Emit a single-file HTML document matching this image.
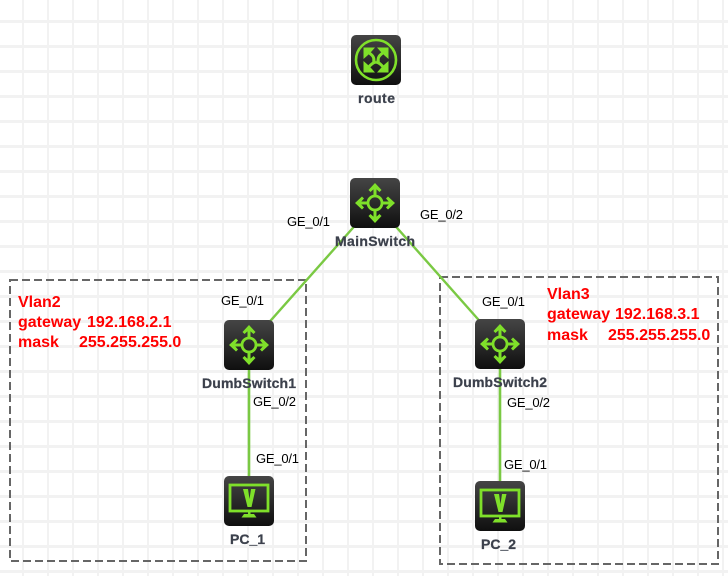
<!DOCTYPE html>
<html><head><meta charset="utf-8"><style>
html,body{margin:0;padding:0;background:#fff;width:728px;height:576px;overflow:hidden}
body{background-image:linear-gradient(to right,transparent 22px,#f2f2f2 22px,#f2f2f2 24px,transparent 24px),linear-gradient(to bottom,transparent 20px,#f2f2f2 20px,#f2f2f2 23px,transparent 23px);background-size:25px 25px}
svg{display:block}
text{font-family:"Liberation Sans",Arial,sans-serif}
.p{font-size:13px;fill:#000}
.n{font-size:14px;font-weight:bold;fill:#3c414c;stroke:#3c414c;stroke-width:.25}
.r{font-size:16px;font-weight:bold;fill:#f00}
</style></head><body>
<svg width="728" height="576" viewBox="0 0 728 576" xmlns="http://www.w3.org/2000/svg">
<defs>
<linearGradient id="g" x1="0" y1="0" x2="0" y2="1"><stop offset="0" stop-color="#454545"/><stop offset="1" stop-color="#0f0f0f"/></linearGradient>
<g id="sw">
<rect width="50" height="50" rx="5" fill="url(#g)"/>
<circle cx="25" cy="25" r="7" fill="none" stroke="#7fe02a" stroke-width="2.8"/>
<path d="M25 18V9M25 32V41M18 25H9M32 25H41" fill="none" stroke="#7fe02a" stroke-width="3"/>
<g fill="#7fe02a">
<path d="M25 5L31.5 12L29.500 14L25 10L20.500 14L18.500 12Z"/><path d="M25 45L31.5 38L29.500 36L25 40L20.500 36L18.500 38Z"/><path d="M5 25L12 18.500L14 20.500L10 25L14 29.500L12 31.500Z"/><path d="M45 25L38 18.500L36 20.500L40 25L36 29.500L38 31.500Z"/>
</g>
</g>
<g id="rt">
<rect width="50" height="50" rx="5" fill="url(#g)"/>
<circle cx="25" cy="25" r="20" fill="none" stroke="#7fe02a" stroke-width="2.6"/>
<g fill="#7fe02a">
<path d="M12.500 12.500H24L20.500 16.500L16.500 20.500L12.500 24Z"/><path d="M37.500 12.500H26L29.500 16.500L33.500 20.500L37.500 24Z"/><path d="M12.500 37.500H24L20.500 33.500L16.500 29.500L12.500 26Z"/><path d="M37.500 37.500H26L29.500 33.500L33.500 29.500L37.500 26Z"/>
</g>
<g fill="none" stroke="#7fe02a" stroke-width="3">
<path d="M17 17C21 20 24 22 22.500 27"/><path d="M33 17C29 20 26 22 27.500 27"/>
<path d="M17 33C20 29 22 27.500 25 27"/><path d="M33 33C30 29 28 27.500 25 27"/>
</g>
</g>
<g id="pc">
<rect width="50" height="50" rx="5" fill="url(#g)"/>
<rect x="6" y="9" width="38" height="26" fill="none" stroke="#7fe02a" stroke-width="2.8"/>
<path d="M19 13H24L25.500 23L27 13H31.500L27.500 31H23.500Z" fill="#7fe02a"/>
<rect x="24" y="36" width="2.500" height="2.500" fill="#7fe02a"/>
<path d="M20 38H30L32.500 41.500H17.500Z" fill="#7fe02a"/>
</g>
</defs>
<g fill="none" stroke="#666" stroke-width="2" stroke-dasharray="8 4">
<rect x="10" y="280" width="296" height="281"/>
<rect x="440" y="277" width="278" height="287"/>
</g>
<g stroke="#7ac943" stroke-width="2.400" fill="none">
<path d="M375 203L249 345"/><path d="M375 203L500 344"/>
</g>
<g stroke="#7ac943" stroke-width="2.600" fill="none">
<path d="M249 345V501"/><path d="M500 344V506"/>
</g>
<use href="#rt" x="351" y="35"/>
<use href="#sw" x="350" y="178"/>
<use href="#sw" x="224" y="320"/>
<use href="#sw" x="475" y="319"/>
<use href="#pc" x="224" y="476"/>
<use href="#pc" x="475" y="481"/>
<text class="n" x="358" y="103" textLength="37">route</text>
<text class="n" x="335" y="246" textLength="80">MainSwitch</text>
<text class="n" x="202" y="388" textLength="94">DumbSwitch1</text>
<text class="n" x="453" y="387" textLength="94">DumbSwitch2</text>
<text class="n" x="230" y="544">PC_1</text>
<text class="n" x="481" y="549">PC_2</text>
<text class="p" x="287" y="226" textLength="43">GE_0/1</text>
<text class="p" x="420" y="219" textLength="43">GE_0/2</text>
<text class="p" x="221" y="305" textLength="43">GE_0/1</text>
<text class="p" x="253" y="406" textLength="43">GE_0/2</text>
<text class="p" x="256" y="463" textLength="43">GE_0/1</text>
<text class="p" x="482" y="306" textLength="43">GE_0/1</text>
<text class="p" x="507" y="407" textLength="43">GE_0/2</text>
<text class="p" x="504" y="469" textLength="43">GE_0/1</text>
<text class="r" x="18" y="307">Vlan2</text>
<text class="r" x="18" y="327">gateway</text><text class="r" x="87" y="327">192.168.2.1</text>
<text class="r" x="18" y="347">mask</text><text class="r" x="79" y="347">255.255.255.0</text>
<text class="r" x="547" y="299">Vlan3</text>
<text class="r" x="547" y="319">gateway</text><text class="r" x="615" y="319">192.168.3.1</text>
<text class="r" x="547" y="340">mask</text><text class="r" x="608" y="340">255.255.255.0</text>
</svg>
</body></html>
